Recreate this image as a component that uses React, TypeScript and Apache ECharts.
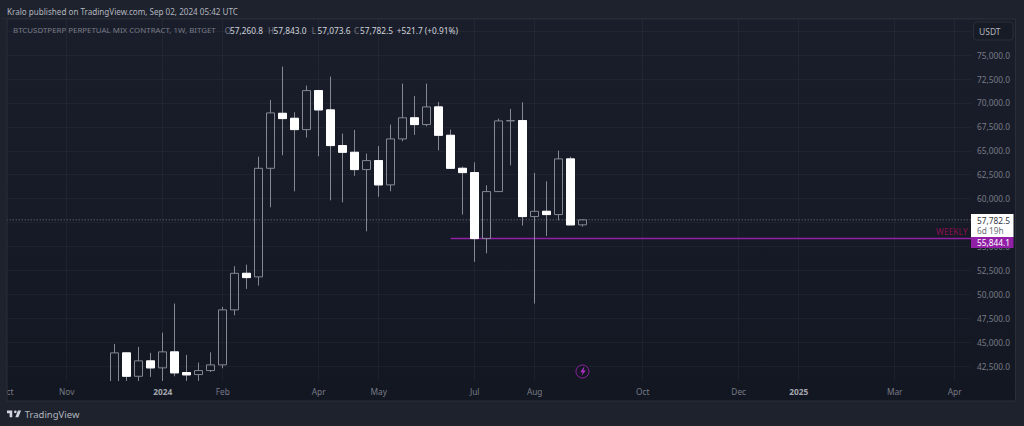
import React, { useEffect, useRef } from "react";
import * as echarts from "echarts";

const firstWeek = "2023-10-02";
const bandCount = 82;
const candlePad = 9;

const tickDates = ["2023-10-02", "2023-11-06", "2024-01-01", "2024-02-05", "2024-04-01", "2024-05-06", "2024-07-01", "2024-08-05", "2024-10-07", "2024-12-02", "2025-01-06", "2025-03-03", "2025-04-07"];
const tickNames = ["Oct", "Nov", "2024", "Feb", "Apr", "May", "Jul", "Aug", "Oct", "Dec", "2025", "Mar", "Apr"];

const opens = [40600, 43880, 41435, 43044, 42312, 43985, 41822, 41612, 42030, 42626, 48374, 52198, 51822, 63171, 68918, 68396, 67215, 71290, 69274, 65543, 64843, 63035, 63975, 61436, 66243, 68448, 67738, 69587, 66620, 63171, 62722, 55825, 60736, 68124, 68156, 58124, 58677, 58333, 64153, 57260.8];
const closes = [43880, 41435, 43044, 42312, 43985, 41790, 41581, 42030, 42626, 48374, 52198, 51749, 63171, 68960, 68365, 67215, 71290, 69274, 65543, 64843, 63035, 63975, 61436, 66243, 68448, 67738, 69587, 66620, 63171, 62722, 55825, 60736, 68124, 68156, 58124, 58677, 58333, 64153, 57257, 57782.5];
const lows = [40400, 40950, 40950, 41372, 40950, 41435, 40950, 40950, 41895, 42271, 47810, 50568, 50913, 59095, 64529, 60767, 66379, 64425, 59827, 59618, 62377, 56587, 60183, 60767, 65992, 66661, 67560, 65052, 63171, 58333, 53389, 54289, 60736, 63484, 57183, 49032, 56106, 57737, 57257, 57073.6];
const highs = [44820, 43880, 44507, 43880, 46000, 49032, 43671, 42866, 43943, 48687, 52930, 53100, 64394, 70319, 73798, 69023, 71813, 71290, 72754, 66797, 67184, 64707, 65512, 67738, 72022, 70737, 72022, 70110, 67215, 63349, 63798, 61394, 68365, 69378, 70068, 62690, 61813, 65020, 64394, 57843];

const lastPrice = 57782.5;
const weeklyLevel = 55844.1;
const weeklyStartCandle = 28;
const priceMin = 40000;
const priceMax = 78815;
const priceStep = 2500;
const shownPriceRange = [42500, 75000];
const hiddenPriceLabels = [57500];

const headerText = "Kralo published on TradingView.com, Sep 02, 2024 05:42 UTC";
const symbolText = "BTCUSDTPERP PERPETUAL MIX CONTRACT, 1W, BITGET";
const ohlcLetters = ["O", "H", "L", "C"];
const ohlcValues = ["57,260.8", "57,843.0", "57,073.6", "57,782.5"];
const changeText = "+521.7 (+0.91%)";

const FONT = "'Noto Sans', sans-serif";
const OUTER = "#1e222d";
const GREY = "#858892";
const LABEL = "#787b86";
const PURPLE = "#9120a6";
const AXIS_SIZE = 8.3;

const weeks: string[] = [];
for (let i = 0; i < bandCount; i++) {
  const d = new Date(Date.parse(firstWeek + "T00:00:00Z") + i * 7 * 86400000);
  weeks.push(d.toISOString().slice(0, 10));
}
const pad = (n: number) => Array.from({ length: n }, () => ["-", "-", "-", "-"]);
const candleData = [...pad(candlePad), ...opens.map((o, i) => [o, closes[i], lows[i], highs[i]])];
const whiteBodies = [
  ...pad(candlePad),
  ...opens.map((o, i) => (closes[i] < o ? [o, closes[i], closes[i], o] : ["-", "-", "-", "-"])),
];
const fmtPrice = (v: number) => v.toLocaleString("en-US", { minimumFractionDigits: 1, maximumFractionDigits: 1 });
const plotGradient = () =>
  new echarts.graphic.LinearGradient(0, 0, 0, 1, [
    { offset: 0, color: "#1a1e2b" },
    { offset: 1, color: "#131722" },
  ]);

echarts.graphic.registerShape(
  "tvlogo",
  echarts.graphic.extendPath("M14 6H2v6h6v9h6V6zm14 15h-7l6-15h7l-6 15zm-7-9a3 3 0 1 0 0-6 3 3 0 0 0 0 6z", {})
);
echarts.graphic.registerShape(
  "bolt",
  echarts.graphic.extendPath("M6 0L1 7h3.5L3 12l6-7.5H5.5L7 0z", {})
);

const txt = (text: string, x: number, y: number, fill: string, size = AXIS_SIZE, z = 8, fontWeight: any = "normal") => ({
  type: "text",
  x,
  y,
  z,
  silent: true,
  style: { text, fill, font: `${fontWeight} ${size}px ${FONT}`, textVerticalAlign: "middle", textAlign: "left" },
});

export default function App() {
  const ref = useRef<HTMLDivElement>(null);
  useEffect(() => {
    const chart = echarts.init(ref.current!, undefined, { renderer: "svg" });
    const ohlcX = [224.7, 268, 311.7, 354];
    const valueX = [230, 273.5, 317.5, 360];
    chart.setOption({
      animation: false,
      backgroundColor: OUTER,
      grid: { left: 0.7, width: 984, top: 18.6, height: 371.4, containLabel: false, outerBoundsMode: "none" },
      xAxis: [
        {
          type: "category",
          data: weeks,
          boundaryGap: true,
          z: 0,
          axisLine: { show: false },
          axisTick: { show: false },
          axisLabel: { show: false },
          splitLine: {
            show: true,
            alignWithLabel: true,
            interval: (_: number, v: string) => tickDates.includes(v),
            lineStyle: { color: "rgba(120,123,134,0.09)", width: 1 },
          },
        },
        {
          type: "category",
          data: weeks,
          position: "bottom",
          boundaryGap: true,
          z: 5,
          axisLine: { show: false },
          axisTick: { show: false },
          splitLine: { show: false },
          axisLabel: {
            show: true,
            hideOverlap: false,
            margin: 1,
            verticalAlign: "middle",
            interval: (_: number, v: string) => tickDates.includes(v),
            formatter: (v: string) => {
              const name = tickNames[tickDates.indexOf(v)] ?? "";
              return /^\d{4}$/.test(name) ? `{y|${name}}` : name;
            },
            color: LABEL,
            fontSize: AXIS_SIZE,
            fontFamily: FONT,
            rich: { y: { color: "#a3a6af", fontWeight: "bold", fontSize: AXIS_SIZE, fontFamily: FONT } },
          },
        },
      ],
      yAxis: [
        {
          type: "value",
          position: "right",
          min: priceMin,
          max: priceMax,
          interval: priceStep,
          z: 0,
          axisLine: { show: false },
          axisTick: { show: false },
          axisLabel: { show: false },
          splitLine: { show: true, lineStyle: { color: "rgba(120,123,134,0.09)", width: 1 } },
        },
        {
          type: "value",
          position: "right",
          offset: -13.7,
          min: priceMin,
          max: priceMax,
          interval: priceStep,
          z: 5,
          axisLine: { show: false },
          axisTick: { show: false },
          splitLine: { show: false },
          axisLabel: {
            show: true,
            margin: 6,
            color: LABEL,
            fontSize: AXIS_SIZE,
            fontFamily: FONT,
            formatter: (v: number) =>
              v < shownPriceRange[0] || v > shownPriceRange[1] || hiddenPriceLabels.includes(v) ? "" : fmtPrice(v),
          },
        },
      ],
      series: [
        {
          type: "line",
          z: 1,
          silent: true,
          symbol: "none",
          data: weeks.map(() => lastPrice),
          lineStyle: { color: "#7a7d86", width: 1, type: [1, 2] },
        },
        {
          type: "line",
          z: 1,
          silent: true,
          symbol: "none",
          data: weeks.map((_, i) => (i >= candlePad + weeklyStartCandle ? weeklyLevel : null)),
          lineStyle: { color: PURPLE, width: 1.5 },
        },
        {
          type: "candlestick",
          z: 2,
          silent: true,
          barWidth: 9,
          data: candleData,
          itemStyle: { color: "transparent", color0: "transparent", borderColor: GREY, borderColor0: GREY, borderWidth: 1 },
        },
        {
          type: "candlestick",
          z: 2,
          silent: true,
          barWidth: 9,
          data: whiteBodies,
          itemStyle: { color: "#ffffff", color0: "#ffffff", borderColor: "#ffffff", borderColor0: "#ffffff", borderWidth: 1 },
        },
      ],
      graphic: [
        { type: "rect", z: -1, silent: true, shape: { x: 7, y: 19, width: 1008.5, height: 382 }, style: { fill: plotGradient() } },
        { type: "rect", z: 3, silent: true, shape: { x: 971, y: 19, width: 44.5, height: 382 }, style: { fill: plotGradient() } },
        { type: "rect", z: 3, silent: true, shape: { x: 7, y: 381, width: 964, height: 20 }, style: { fill: "#131722" } },
        { type: "rect", z: 6, silent: true, shape: { x: 0, y: 19, width: 7, height: 382 }, style: { fill: OUTER } },
        { type: "rect", z: 6, silent: true, shape: { x: 7, y: 19, width: 1008.5, height: 382 }, style: { fill: "none", stroke: "#2a2e39", lineWidth: 1 } },
        txt(headerText, 7, 11, "#b2b5be", 8.1),
        txt(symbolText, 13, 30, LABEL, 7.9),
        ...ohlcLetters.map((l, i) => txt(l, ohlcX[i], 30, LABEL, 8.1)),
        ...ohlcValues.map((v, i) => txt(v, valueX[i], 30, "#d1d4dc", 8.3)),
        txt(changeText, 396.7, 30, "#d1d4dc", 8.3),
        { type: "rect", z: 7, silent: true, shape: { x: 973.5, y: 22, width: 39.5, height: 18, r: 3 }, style: { fill: "#171b26", stroke: "#2a2e39", lineWidth: 1 } },
        txt("USDT", 979, 31, "#b2b5be", 8.5),
        { type: "rect", z: 7, silent: true, shape: { x: 971, y: 214, width: 42.5, height: 23 }, style: { fill: "#ffffff" } },
        { type: "rect", z: 7, silent: true, shape: { x: 971, y: 237, width: 42.5, height: 11 }, style: { fill: PURPLE } },
        txt("57,782.5", 977, 220, "#333640"),
        txt("6d 19h", 977, 230, "#6a6d78"),
        txt("55,844.1", 977, 242, "#ffffff"),
        txt("WEEKLY", 936, 231, "#880e4f", 8.5),
        { type: "circle", z: 7, silent: true, shape: { cx: 582.5, cy: 371.5, r: 6.5 }, style: { fill: "#131722", stroke: PURPLE, lineWidth: 1 } },
        { type: "bolt", z: 8, silent: true, x: 579.5, y: 367.3, scaleX: 0.7, scaleY: 0.7, style: { fill: "#b030c4" } },
        { type: "tvlogo", z: 8, silent: true, x: 6.1, y: 407.9, scaleX: 0.44, scaleY: 0.44, style: { fill: "#d1d4dc" } },
        txt("TradingView", 24.7, 414, "#b2b5be", 9.5),
      ],
    });
    return () => chart.dispose();
  }, []);
  return <div ref={ref} style={{ position: "fixed", left: 0, top: 0, width: 1024, height: 426 }} />;
}
